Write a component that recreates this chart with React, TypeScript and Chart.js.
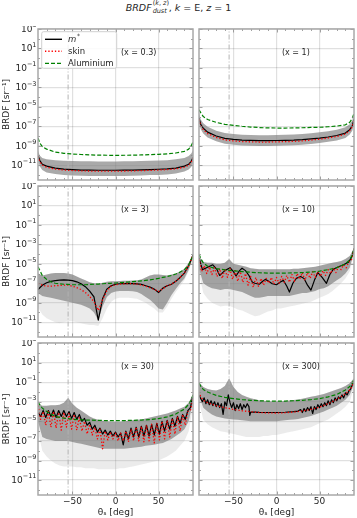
import React, { useEffect, useRef } from "react";
import { Chart, registerables } from "chart.js";

Chart.register(...registerables);

// ---------------- data (log10 of BRDF in sr^-1) ----------------
const X_SMOOTH = [-90, -88, -85, -80, -70, -60, -50, -40, -30, -20, -10, 0, 10, 20, 30, 40, 50, 60, 70, 80, 85, 88, 90];
const X_5 = [-90, -85, -80, -75, -70, -65, -60, -55, -50, -45, -40, -35, -30, -25, -20, -15, -10, -5, 0, 5, 10, 15, 20, 25, 30, 35, 40, 45, 50, 55, 60, 65, 70, 75, 80, 85, 90];
const X_3 = [-90, -87, -84, -81, -78, -75, -72, -69, -66, -63, -60, -57, -54, -51, -48, -45, -42, -39, -36, -33, -30, -27, -24, -21, -18, -15, -12, -9, -6, -3, 0, 3, 6, 9, 12, 15, 18, 21, 24, 27, 30, 33, 36, 39, 42, 45, 48, 51, 54, 57, 60, 63, 66, 69, 72, 75, 78, 81, 84, 87, 90];

const PANEL_LABELS = ["(x = 0.3)", "(x = 1)", "(x = 3)", "(x = 10)", "(x = 30)", "(x = 300)"];
const SERIES_NAMES = ["m", "skin", "Aluminium"];

// x = 0.3
const P1_AL = [-8.2, -8.7, -9.1, -9.35, -9.65, -9.78, -9.85, -9.9, -9.94, -9.97, -9.98, -9.99, -9.98, -9.97, -9.95, -9.92, -9.88, -9.83, -9.75, -9.58, -9.35, -9.0, -8.6];
const P1_M = [-10.0, -10.5, -10.9, -11.1, -11.3, -11.4, -11.45, -11.5, -11.5, -11.52, -11.52, -11.52, -11.5, -11.5, -11.48, -11.45, -11.42, -11.38, -11.3, -11.1, -10.9, -10.6, -10.2];
const P1_SKIN = [-10.1, -10.6, -11.0, -11.2, -11.4, -11.5, -11.55, -11.58, -11.6, -11.62, -11.62, -11.62, -11.6, -11.58, -11.56, -11.53, -11.5, -11.45, -11.38, -11.2, -11.0, -10.7, -10.3];
const P1_HI = [-9.5, -10.0, -10.25, -10.4, -10.5, -10.55, -10.58, -10.6, -10.6, -10.62, -10.62, -10.62, -10.6, -10.6, -10.58, -10.55, -10.52, -10.48, -10.4, -10.25, -10.05, -9.8, -9.5];
const P1_LO = [-10.5, -11.1, -11.5, -11.75, -11.9, -12.0, -12.05, -12.08, -12.1, -12.1, -12.1, -12.1, -12.1, -12.08, -12.05, -12.02, -12.0, -11.95, -11.85, -11.65, -11.45, -11.15, -10.8];

// x = 1
const P2_AL = [-5.3, -5.6, -6.0, -6.3, -6.6, -6.8, -6.9, -7.0, -7.08, -7.13, -7.17, -7.18, -7.18, -7.17, -7.15, -7.12, -7.1, -7.05, -6.98, -6.85, -6.6, -6.2, -5.65];
const P2_M = [-6.15, -6.8, -7.2, -7.6, -8.0, -8.25, -8.35, -8.42, -8.45, -8.47, -8.47, -8.46, -8.44, -8.42, -8.38, -8.3, -8.22, -8.1, -7.95, -7.7, -7.35, -6.95, -6.3];
const P2_SKIN = [-6.3, -6.95, -7.35, -7.75, -8.15, -8.4, -8.5, -8.57, -8.6, -8.62, -8.62, -8.6, -8.58, -8.55, -8.5, -8.42, -8.33, -8.2, -8.05, -7.8, -7.45, -7.05, -6.4];
const P2_HI = [-5.6, -6.3, -6.7, -7.05, -7.45, -7.7, -7.8, -7.87, -7.9, -7.92, -7.92, -7.9, -7.88, -7.85, -7.8, -7.72, -7.62, -7.5, -7.35, -7.1, -6.8, -6.4, -5.8];
const P2_LO = [-6.6, -7.3, -7.75, -8.15, -8.55, -8.8, -8.9, -8.97, -9.0, -9.02, -9.02, -9.0, -8.98, -8.95, -8.9, -8.82, -8.73, -8.6, -8.45, -8.2, -7.85, -7.45, -6.8];

// x = 3 (on X_5)
const P3_M = [-7.65, -7.2, -6.95, -6.8, -6.72, -6.68, -6.66, -6.67, -6.72, -6.85, -7.05, -7.35, -7.8, -8.4, -10.8, -8.6, -7.6, -7.25, -7.1, -7.05, -7.03, -7.02, -7.03, -7.07, -7.12, -7.25, -7.4, -7.6, -7.95, -7.5, -7.25, -7.1, -6.8, -6.4, -5.95, -5.2, -4.1];
const P3_SKIN = [-7.0, -7.2, -7.3, -7.3, -7.25, -7.22, -7.2, -7.2, -7.3, -7.45, -7.65, -7.95, -8.35, -8.9, -9.8, -8.7, -7.75, -7.3, -7.15, -7.08, -7.05, -7.03, -7.05, -7.08, -7.17, -7.3, -7.45, -7.62, -7.85, -7.55, -7.25, -7.1, -6.8, -6.4, -5.95, -5.2, -4.1];
const P3_AL = [-5.3, -6.2, -6.6, -6.85, -7.0, -7.05, -7.1, -7.12, -7.15, -7.15, -7.15, -7.15, -7.12, -7.1, -7.08, -7.05, -7.02, -7.0, -6.97, -6.93, -6.9, -6.87, -6.83, -6.8, -6.75, -6.7, -6.65, -6.58, -6.5, -6.4, -6.3, -6.2, -6.05, -5.85, -5.6, -5.1, -4.2];
const P3_HI = [-6.0, -6.2, -6.1, -6.0, -5.95, -5.95, -5.95, -6.0, -6.1, -6.3, -6.5, -6.7, -6.9, -7.0, -7.05, -6.95, -6.85, -6.8, -6.78, -6.76, -6.75, -6.74, -6.72, -6.7, -6.6, -6.4, -6.2, -6.1, -6.1, -6.15, -6.2, -6.1, -6.0, -5.8, -5.5, -4.9, -4.0];
const P3_LO = [-8.0, -8.3, -8.4, -8.5, -8.6, -8.7, -8.8, -8.9, -9.0, -9.1, -9.2, -9.4, -9.6, -10.0, -10.8, -9.4, -8.4, -8.0, -7.85, -7.8, -7.8, -7.8, -7.82, -7.9, -8.1, -8.4, -8.7, -9.1, -9.6, -9.7, -9.0, -8.2, -7.6, -7.0, -6.5, -5.6, -4.3];
const P3_FAINT = [-9.5, -10.2, -10.6, -10.8, -11.0, -11.1, -11.0, -10.9, -10.9, -11.0, -11.1, -11.2, -11.3, -11.3, -11.4, -10.6, -9.6, -8.9, -8.6, -8.5, -8.5, -8.5, -8.55, -8.6, -8.8, -9.0, -9.3, -9.6, -10.0, -10.0, -9.4, -8.6, -7.9, -7.3, -6.7, -5.8, -4.4];

// x = 10
const P4_M_X = [-90, -86, -80, -74, -69, -66, -60, -54, -50, -47, -43, -40, -36, -32, -28, -25, -20, -16, -13, -9, -5, 0, 4, 8, 12, 15, 19, 23, 28, 32, 36, 40, 44, 48, 53, 58, 62, 66, 72, 78, 84, 88, 90];
const P4_M = [-4.4, -5.6, -5.35, -5.1, -5.6, -6.2, -5.7, -5.4, -5.8, -6.25, -5.7, -5.45, -5.7, -6.2, -6.9, -7.0, -7.1, -6.8, -6.6, -6.8, -7.05, -7.15, -6.9, -6.7, -7.3, -7.9, -7.0, -6.5, -6.3, -6.5, -7.2, -7.7, -6.7, -5.9, -6.4, -7.0, -6.1, -5.55, -5.3, -5.1, -4.8, -4.2, -3.4];
const P4_SKIN = [-4.5, -5.8, -5.2, -6.0, -5.3, -6.1, -5.4, -6.3, -5.5, -6.5, -5.5, -6.4, -5.5, -6.6, -5.7, -6.8, -5.8, -6.9, -6.0, -7.2, -6.3, -7.4, -6.4, -7.3, -6.5, -7.2, -6.5, -7.0, -6.4, -7.1, -6.4, -7.0, -6.3, -6.9, -6.2, -6.9, -6.1, -6.8, -6.0, -6.6, -5.9, -6.7, -5.9, -6.5, -5.8, -6.4, -5.8, -6.3, -5.7, -6.2, -5.6, -6.0, -5.4, -5.9, -5.3, -5.6, -5.1, -5.4, -4.8, -4.6, -3.5];
const P4_AL = [-4.0, -4.45, -4.9, -5.25, -5.5, -5.62, -5.72, -5.8, -5.87, -5.92, -5.95, -5.96, -5.95, -5.93, -5.9, -5.85, -5.75, -5.6, -5.4, -5.0, -4.6, -4.1, -3.5];
const P4_HI = [-4.2, -4.8, -4.9, -4.9, -5.0, -5.0, -4.9, -4.5, -5.0, -5.1, -5.2, -5.3, -5.45, -5.5, -5.55, -5.55, -5.55, -5.55, -5.55, -5.55, -5.55, -5.55, -5.5, -5.5, -5.45, -5.4, -5.35, -5.3, -5.2, -5.1, -5.0, -4.9, -4.8, -4.7, -4.5, -4.2, -3.4];
const P4_LO = [-5.5, -7.0, -7.3, -7.5, -7.6, -7.7, -7.6, -7.6, -7.7, -7.8, -7.9, -8.1, -8.3, -8.5, -8.5, -8.4, -8.3, -8.3, -8.3, -8.3, -8.3, -8.3, -8.2, -8.1, -8.0, -8.0, -7.9, -7.8, -7.6, -7.5, -7.3, -7.0, -6.7, -6.4, -6.0, -5.4, -3.8];
const P4_FAINT = [-6.0, -8.0, -8.6, -9.0, -9.2, -9.4, -9.3, -9.3, -9.5, -9.7, -9.8, -10.0, -10.2, -10.4, -10.3, -10.1, -9.9, -9.8, -9.6, -9.6, -9.5, -9.4, -9.3, -9.2, -9.1, -9.0, -8.9, -8.7, -8.5, -8.3, -8.1, -7.8, -7.4, -7.0, -6.5, -5.8, -4.0];

// x = 30 (m and skin on X_3)
const P5_M = [-4.1, -4.5, -3.9, -4.6, -3.9, -4.5, -3.85, -4.6, -3.9, -4.5, -3.9, -4.5, -4.0, -4.7, -4.1, -4.8, -4.3, -5.0, -4.7, -5.4, -5.1, -5.8, -5.4, -6.1, -5.7, -6.3, -5.9, -6.4, -6.0, -6.5, -6.1, -6.6, -6.2, -7.4, -6.0, -6.8, -5.7, -6.6, -5.6, -6.6, -5.5, -6.5, -5.4, -6.5, -5.3, -6.4, -5.2, -6.3, -5.0, -6.0, -4.9, -5.8, -4.7, -5.5, -4.5, -5.2, -4.3, -4.8, -3.9, -3.6, -2.3];
const P5_SKIN = [-3.4, -4.8, -4.0, -5.4, -4.0, -5.6, -4.0, -5.7, -4.1, -5.9, -4.1, -5.6, -4.2, -5.8, -4.3, -5.9, -4.6, -6.0, -5.0, -6.3, -5.3, -6.4, -5.6, -6.8, -5.8, -7.8, -6.0, -6.9, -6.1, -6.8, -6.2, -7.0, -6.2, -7.0, -6.0, -7.1, -5.8, -7.0, -5.6, -7.0, -5.5, -7.1, -5.4, -7.0, -5.3, -7.2, -5.2, -6.9, -5.0, -6.8, -4.9, -6.6, -4.7, -6.3, -4.5, -6.0, -4.3, -5.4, -4.0, -3.9, -2.7];
const P5_AL = [-3.0, -3.3, -3.65, -4.0, -4.5, -4.68, -4.78, -4.85, -4.88, -4.9, -4.92, -4.92, -4.92, -4.9, -4.87, -4.82, -4.72, -4.55, -4.25, -3.75, -3.25, -2.8, -2.3];
const P5_HI = [-3.2, -3.4, -3.4, -3.35, -3.35, -3.3, -3.1, -2.6, -3.2, -3.6, -3.9, -4.2, -4.5, -4.7, -4.85, -4.95, -5.0, -5.05, -5.05, -5.05, -5.0, -4.95, -4.9, -4.85, -4.8, -4.7, -4.6, -4.5, -4.4, -4.3, -4.2, -4.05, -3.9, -3.7, -3.5, -3.1, -2.2];
const P5_LO = [-5.0, -6.6, -6.8, -6.9, -7.0, -7.0, -7.0, -7.0, -7.1, -7.2, -7.3, -7.4, -7.5, -7.6, -7.7, -7.8, -7.8, -7.8, -7.8, -7.8, -7.8, -7.75, -7.7, -7.65, -7.6, -7.5, -7.45, -7.4, -7.3, -7.2, -7.0, -6.8, -6.5, -6.2, -5.8, -5.0, -3.0];
const P5_FAINT = [-6.0, -8.0, -8.6, -9.0, -9.3, -9.5, -9.6, -9.6, -9.6, -9.7, -9.7, -9.8, -9.8, -9.8, -9.9, -9.9, -9.9, -9.9, -9.9, -9.8, -9.8, -9.7, -9.6, -9.5, -9.4, -9.3, -9.2, -9.1, -9.0, -8.8, -8.6, -8.3, -8.0, -7.5, -7.0, -6.0, -3.5];

// x = 300
const P6_M_X = [-90, -88, -86, -84, -82, -80, -78, -76, -74, -72, -70, -68, -66, -64, -62, -60, -58, -56, -54, -52, -50, -48, -46, -44, -42, -40, -38, -36, -34, -32, -31, -30, -25, -20, -10, 0, 10, 20, 25, 28, 30, 32, 34, 36, 38, 40, 42, 44, 46, 48, 50, 52, 54, 56, 58, 60, 62, 64, 66, 68, 70, 72, 74, 76, 78, 80, 82, 84, 86, 88, 90];
const P6_M = [-2.3, -2.7, -3.0, -2.6, -3.2, -2.8, -3.3, -2.9, -3.4, -3.0, -3.5, -3.1, -3.6, -3.2, -4.3, -3.0, -3.4, -2.3, -3.1, -3.6, -3.1, -3.9, -3.3, -3.7, -3.2, -3.8, -3.3, -3.6, -3.2, -3.5, -4.4, -4.05, -4.05, -4.08, -4.1, -4.1, -4.07, -4.0, -3.95, -3.8, -4.1, -3.7, -4.0, -3.6, -3.9, -3.5, -4.2, -3.5, -3.8, -3.3, -3.6, -3.2, -3.5, -3.1, -3.4, -2.9, -3.3, -2.8, -3.1, -2.6, -2.9, -2.5, -2.7, -2.3, -2.6, -2.1, -2.3, -1.9, -1.7, -1.3, -0.9];
const P6_SKIN = [-2.0, -2.5, -2.85, -3.1, -3.4, -3.6, -3.78, -3.92, -4.02, -4.1, -4.14, -4.15, -4.12, -4.05, -3.95, -3.78, -3.55, -3.2, -2.75, -2.2, -1.8, -1.4, -0.9];
const P6_AL = [-1.1, -1.4, -1.75, -2.0, -2.35, -2.55, -2.68, -2.78, -2.85, -2.9, -2.93, -2.94, -2.93, -2.9, -2.85, -2.78, -2.68, -2.5, -2.25, -1.8, -1.45, -1.1, -0.7];
const P6_HI = [-1.0, -1.5, -1.7, -1.8, -1.85, -1.7, -1.4, -0.6, -1.5, -2.0, -2.3, -2.5, -2.65, -2.75, -2.85, -2.9, -2.95, -2.97, -2.97, -2.95, -2.92, -2.88, -2.83, -2.78, -2.7, -2.6, -2.5, -2.4, -2.3, -2.2, -2.05, -1.9, -1.75, -1.6, -1.4, -1.1, -0.6];
const P6_LO = [-2.4, -3.6, -4.0, -4.3, -4.5, -4.6, -4.7, -4.75, -4.8, -4.85, -4.9, -4.95, -5.0, -5.0, -5.0, -5.0, -5.0, -5.0, -5.0, -4.95, -4.9, -4.85, -4.8, -4.75, -4.65, -4.55, -4.45, -4.3, -4.15, -4.0, -3.8, -3.6, -3.4, -3.1, -2.8, -2.3, -1.2];
const P6_FAINT = [-3.0, -4.8, -5.3, -5.6, -5.8, -6.0, -6.1, -6.2, -6.3, -6.4, -6.5, -6.6, -6.6, -6.6, -6.6, -6.5, -6.5, -6.4, -6.4, -6.3, -6.2, -6.1, -6.0, -5.9, -5.8, -5.7, -5.6, -5.4, -5.2, -5.0, -4.8, -4.5, -4.2, -3.9, -3.5, -3.0, -1.5];

const MARKER_ANGLE = -55;
const X_TICKS = [-50, 0, 50];
const X_MINOR = [-80, -70, -60, -40, -30, -20, -10, 10, 20, 30, 40, 60, 70, 80];
const Y_TICK_EXPS = [3, 1, -1, -3, -5, -7, -9, -11];
const Y_MINOR_EXPS = [2, 0, -2, -4, -6, -8, -10, -12];
const Y_MIN_EXP = -12.5;
const Y_MAX_EXP = 3;

// ---------------- panels ----------------
type Panel = {
  label: string;
  bandX: number[]; hi: number[]; lo: number[]; faint?: number[];
  mX: number[]; m: number[];
  skinX: number[]; skin: number[];
  alX: number[]; al: number[];
  legend?: boolean;
};

const PANELS: Panel[] = [
  { label: PANEL_LABELS[0], bandX: X_SMOOTH, hi: P1_HI, lo: P1_LO, mX: X_SMOOTH, m: P1_M, skinX: X_SMOOTH, skin: P1_SKIN, alX: X_SMOOTH, al: P1_AL, legend: true },
  { label: PANEL_LABELS[1], bandX: X_SMOOTH, hi: P2_HI, lo: P2_LO, mX: X_SMOOTH, m: P2_M, skinX: X_SMOOTH, skin: P2_SKIN, alX: X_SMOOTH, al: P2_AL },
  { label: PANEL_LABELS[2], bandX: X_5, hi: P3_HI, lo: P3_LO, faint: P3_FAINT, mX: X_5, m: P3_M, skinX: X_5, skin: P3_SKIN, alX: X_5, al: P3_AL },
  { label: PANEL_LABELS[3], bandX: X_5, hi: P4_HI, lo: P4_LO, faint: P4_FAINT, mX: P4_M_X, m: P4_M, skinX: X_3, skin: P4_SKIN, alX: X_SMOOTH, al: P4_AL },
  { label: PANEL_LABELS[4], bandX: X_5, hi: P5_HI, lo: P5_LO, faint: P5_FAINT, mX: X_3, m: P5_M, skinX: X_3, skin: P5_SKIN, alX: X_SMOOTH, al: P5_AL },
  { label: PANEL_LABELS[5], bandX: X_5, hi: P6_HI, lo: P6_LO, faint: P6_FAINT, mX: P6_M_X, m: P6_M, skinX: X_SMOOTH, skin: P6_SKIN, alX: X_SMOOTH, al: P6_AL },
];

// ---------------- style / layout ----------------
const FONT = '"DejaVu Sans", "Liberation Sans", sans-serif';
const TEXT = "#262626";
const GRID = "rgba(0,0,0,0.12)";
const SPINE = "#a8a8a8";
const TICK = "#8a8a8a";
const BAND = "rgba(125,125,125,0.66)";
const FAINT = "rgba(165,165,165,0.22)";
const W = 357;
const H = 518;
const COLS = [{ left: 38, right: 193 }, { left: 199, right: 354 }];
const ROWS = [{ top: 29, bottom: 180 }, { top: 186, bottom: 337 }, { top: 343, bottom: 495 }];
const PAD = 3;

function pts(xs: number[], ys: number[]) {
  const n = Math.min(xs.length, ys.length);
  const out: { x: number; y: number }[] = [];
  for (let i = 0; i < n; i++) out.push({ x: xs[i], y: Math.pow(10, ys[i]) });
  return out;
}

function supText(ctx: CanvasRenderingContext2D, base: string, sup: string, xRight: number, y: number) {
  ctx.font = `9px ${FONT}`;
  const bw = ctx.measureText(base).width;
  ctx.font = `6.5px ${FONT}`;
  const sw = ctx.measureText(sup).width;
  ctx.textAlign = "left";
  ctx.textBaseline = "middle";
  ctx.font = `9px ${FONT}`;
  ctx.fillText(base, xRight - sw - bw, y + 0.5);
  ctx.font = `6.5px ${FONT}`;
  ctx.fillText(sup, xRight - sw, y - 3.5);
}

function drawLegend(ctx: CanvasRenderingContext2D, left: number, top: number) {
  const x0 = left + 3.7;
  const y0 = top + 2.7;
  const w = 75;
  const h = 36.6;
  ctx.save();
  ctx.fillStyle = "rgba(255,255,255,0.85)";
  ctx.strokeStyle = "#d0d0d0";
  ctx.lineWidth = 1;
  ctx.beginPath();
  const rr = 2;
  ctx.moveTo(x0 + rr, y0);
  ctx.lineTo(x0 + w - rr, y0);
  ctx.arcTo(x0 + w, y0, x0 + w, y0 + rr, rr);
  ctx.lineTo(x0 + w, y0 + h - rr);
  ctx.arcTo(x0 + w, y0 + h, x0 + w - rr, y0 + h, rr);
  ctx.lineTo(x0 + rr, y0 + h);
  ctx.arcTo(x0, y0 + h, x0, y0 + h - rr, rr);
  ctx.lineTo(x0, y0 + rr);
  ctx.arcTo(x0, y0, x0 + rr, y0, rr);
  ctx.closePath();
  ctx.fill();
  ctx.stroke();
  const styles = [
    { color: "#000000", dash: [] as number[], lw: 1.4 },
    { color: "#ff0000", dash: [1.3, 2], lw: 1.4 },
    { color: "#008000", dash: [4, 2], lw: 1.3 },
  ];
  styles.forEach((s, i) => {
    const y = y0 + 7.6 + i * 12;
    ctx.beginPath();
    ctx.setLineDash(s.dash);
    ctx.strokeStyle = s.color;
    ctx.lineWidth = s.lw;
    ctx.moveTo(x0 + 3.3, y);
    ctx.lineTo(x0 + 20.3, y);
    ctx.stroke();
    ctx.setLineDash([]);
    ctx.fillStyle = TEXT;
    ctx.textBaseline = "middle";
    ctx.textAlign = "left";
    if (i === 0) {
      ctx.font = `italic 8.5px ${FONT}`;
      ctx.fillText(SERIES_NAMES[0], x0 + 26.3, y + 0.5);
      const mw = ctx.measureText(SERIES_NAMES[0]).width;
      ctx.font = `6px ${FONT}`;
      ctx.fillText("*", x0 + 27 + mw, y - 2.5);
    } else {
      ctx.font = `8.5px ${FONT}`;
      ctx.fillText(SERIES_NAMES[i], x0 + 26.3, y + 0.5);
    }
  });
  ctx.restore();
}

function PanelChart({ p, r, c }: { p: Panel; r: number; c: number }) {
  const ref = useRef<HTMLCanvasElement | null>(null);
  const bottomRow = r === 2;
  const cLeft = c === 0 ? 0 : COLS[1].left - PAD;
  const cWidth = c === 0 ? COLS[0].right + PAD : W - cLeft;
  const cTop = ROWS[r].top - PAD;
  const cHeight = bottomRow ? H - cTop : ROWS[r].bottom - ROWS[r].top + 2 * PAD;
  const padLeft = c === 0 ? 0 : PAD;
  const padRight = cWidth - (COLS[c].right - cLeft);
  const yWidth = c === 0 ? COLS[0].left : 0;
  const xHeight = bottomRow ? H - ROWS[2].bottom : 0;

  useEffect(() => {
    if (!ref.current) return;
    const datasets: any[] = [];
    const hidden = { borderWidth: 0, pointRadius: 0, borderColor: "rgba(0,0,0,0)" };
    if (p.faint) {
      const i0 = datasets.length;
      datasets.push({ ...hidden, data: pts(p.bandX, p.hi), fill: false, order: 20 });
      datasets.push({ ...hidden, data: pts(p.bandX, p.faint), fill: { target: i0 }, backgroundColor: FAINT, order: 19 });
    }
    const j0 = datasets.length;
    datasets.push({ ...hidden, data: pts(p.bandX, p.hi), fill: false, order: 18 });
    datasets.push({ ...hidden, data: pts(p.bandX, p.lo), fill: { target: j0 }, backgroundColor: BAND, order: 17 });
    datasets.push({
      data: [{ x: MARKER_ANGLE, y: Math.pow(10, Y_MIN_EXP - 1) }, { x: MARKER_ANGLE, y: Math.pow(10, Y_MAX_EXP + 1) }],
      borderColor: "rgba(180,180,180,0.7)", borderWidth: 1.4, borderDash: [5, 2, 1, 2], pointRadius: 0, fill: false, order: 16,
    });
    datasets.push({ label: SERIES_NAMES[0], data: pts(p.mX, p.m), borderColor: "#000000", borderWidth: 1.2, pointRadius: 0, fill: false, order: 3 });
    datasets.push({ label: SERIES_NAMES[1], data: pts(p.skinX, p.skin), borderColor: "#ff0000", borderWidth: 1.3, borderDash: [1.3, 2], pointRadius: 0, fill: false, order: 2 });
    datasets.push({ label: SERIES_NAMES[2], data: pts(p.alX, p.al), borderColor: "#008000", borderWidth: 1.2, borderDash: [4, 2], pointRadius: 0, fill: false, order: 1 });

    const decor = {
      id: "decor",
      afterDraw(chart: any) {
        const { ctx, chartArea: ca, scales } = chart;
        const xs = scales.x;
        const ys = scales.y;
        ctx.save();
        ctx.strokeStyle = TICK;
        ctx.lineWidth = 0.8;
        ctx.beginPath();
        X_MINOR.forEach((v) => {
          const px = Math.round(xs.getPixelForValue(v)) + 0.5;
          ctx.moveTo(px, ca.bottom); ctx.lineTo(px, ca.bottom - 2);
          ctx.moveTo(px, ca.top); ctx.lineTo(px, ca.top + 2);
        });
        X_TICKS.forEach((v) => {
          const px = Math.round(xs.getPixelForValue(v)) + 0.5;
          ctx.moveTo(px, ca.bottom); ctx.lineTo(px, ca.bottom - 3.5);
          ctx.moveTo(px, ca.top); ctx.lineTo(px, ca.top + 3.5);
        });
        Y_TICK_EXPS.forEach((e) => {
          const py = Math.round(ys.getPixelForValue(Math.pow(10, e))) + 0.5;
          ctx.moveTo(ca.left, py); ctx.lineTo(ca.left + 3.5, py);
          ctx.moveTo(ca.right, py); ctx.lineTo(ca.right - 3.5, py);
        });
        Y_MINOR_EXPS.forEach((e) => {
          const py = Math.round(ys.getPixelForValue(Math.pow(10, e))) + 0.5;
          ctx.moveTo(ca.left, py); ctx.lineTo(ca.left + 2, py);
          ctx.moveTo(ca.right, py); ctx.lineTo(ca.right - 2, py);
        });
        ctx.stroke();
        ctx.strokeStyle = SPINE;
        ctx.lineWidth = 1.5;
        ctx.strokeRect(ca.left, ca.top, ca.right - ca.left, ca.bottom - ca.top);
        ctx.fillStyle = TEXT;
        if (c === 0) {
          Y_TICK_EXPS.forEach((e) => {
            const py = ys.getPixelForValue(Math.pow(10, e));
            const ex = e < 0 ? "\u2212" + Math.abs(e) : String(e);
            supText(ctx, "10", ex, ca.left - 1.5, py);
          });
        }
        ctx.font = `8px ${FONT}`;
        ctx.textAlign = "left";
        ctx.textBaseline = "middle";
        ctx.fillText(p.label, ca.left + 0.535 * (ca.right - ca.left), ca.top + 23.5);
        if (p.legend) drawLegend(ctx, ca.left, ca.top);
        ctx.restore();
      },
    };

    const chart = new Chart(ref.current, {
      type: "line",
      data: { datasets },
      options: {
        animation: false,
        responsive: false,
        maintainAspectRatio: false,
        devicePixelRatio: 1,
        parsing: false,
        normalized: true,
        layout: { padding: { left: padLeft, right: padRight, top: PAD, bottom: bottomRow ? 0 : PAD } },
        plugins: { legend: { display: false }, tooltip: { enabled: false }, title: { display: false } },
        elements: { line: { tension: 0, borderJoinStyle: "round", borderCapStyle: "butt" } },
        scales: {
          x: {
            type: "linear",
            min: -90,
            max: 90,
            afterBuildTicks: (s: any) => { s.ticks = X_TICKS.map((v) => ({ value: v })); },
            afterFit: (s: any) => { s.height = xHeight; },
            grid: { color: GRID, lineWidth: 1.2, drawTicks: false },
            border: { display: false },
            ticks: {
              display: bottomRow,
              padding: 1,
              maxRotation: 0,
              autoSkip: false,
              color: TEXT,
              font: { family: FONT, size: 9 },
              callback: (v: any) => (Number(v) < 0 ? "\u2212" + Math.abs(Number(v)) : String(v)),
            },
            title: { display: bottomRow, text: "\u03b8\u209b [deg]", color: TEXT, font: { family: FONT, size: 9 }, padding: { top: 1.5, bottom: 0 } },
          },
          y: {
            type: "logarithmic",
            min: Math.pow(10, Y_MIN_EXP),
            max: Math.pow(10, Y_MAX_EXP),
            afterBuildTicks: (s: any) => { s.ticks = Y_TICK_EXPS.map((e) => ({ value: Math.pow(10, e), major: true })); },
            afterFit: (s: any) => { s.width = yWidth; },
            grid: { color: GRID, lineWidth: 1.2, drawTicks: false },
            border: { display: false },
            ticks: { display: false },
            title: { display: c === 0, text: "BRDF [sr\u207b\u00b9]", color: TEXT, font: { family: FONT, size: 9 }, padding: { top: 1.5, bottom: 0 } },
          },
        },
      },
      plugins: [decor],
    } as any);
    return () => chart.destroy();
  }, []);

  return (
    <canvas
      ref={ref}
      width={cWidth}
      height={cHeight}
      style={{ position: "absolute", left: cLeft, top: cTop, width: cWidth, height: cHeight }}
    />
  );
}

export default function App() {
  return (
    <div style={{ position: "absolute", left: 0, top: 0, width: W, height: H, background: "#ffffff", overflow: "hidden" }}>
      <div
        style={{
          position: "absolute", left: 0, top: 1, width: W, textAlign: "center", fontFamily: FONT,
          fontSize: 9.5, lineHeight: "14px", color: TEXT, whiteSpace: "nowrap",
        }}
      >
        <i>BRDF</i>
        <span style={{ display: "inline-block", position: "relative", width: 17, height: 10, verticalAlign: "baseline" }}>
          <span style={{ position: "absolute", left: 1, top: -1, fontSize: 6.5, lineHeight: "7px" }}>
            (<i>k</i>, <i>z</i>)
          </span>
          <span style={{ position: "absolute", left: 1, top: 6.5, fontSize: 6.5, lineHeight: "7px", fontStyle: "italic" }}>dust</span>
        </span>
        , <i>k</i> = E, <i>z</i> = 1
      </div>
      {PANELS.map((p, i) => (
        <PanelChart key={i} p={p} r={Math.floor(i / 2)} c={i % 2} />
      ))}
    </div>
  );
}
